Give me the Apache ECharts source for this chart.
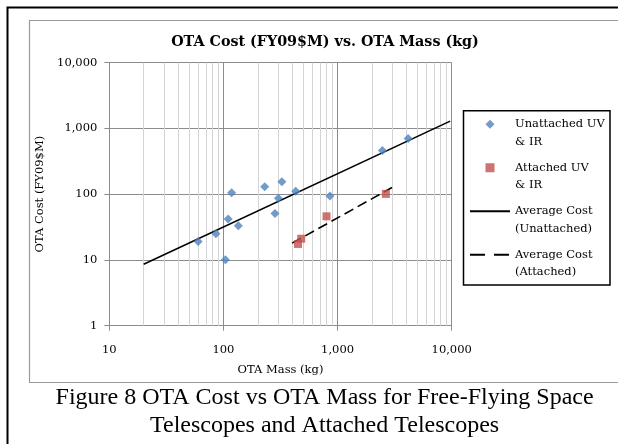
<!DOCTYPE html>
<html>
<head>
<meta charset="utf-8">
<script src="https://cdn.jsdelivr.net/npm/echarts@6/dist/echarts.min.js"></script>
<style>
    html, body { margin: 0; padding: 0; background: #fff; }
    #otaChart { width: 618px; height: 444px; }
</style>
</head>
<body>
<div id="otaChart"></div>
<script>
// 自由飞行望远镜 (Unattached)
var unattachedMass = [60, 86, 104, 110, 118, 135, 230, 283, 303, 325, 430, 857, 2470, 4150];
var unattachedCost = [19, 25, 10.1, 42, 105, 33, 130, 51, 87, 154, 111, 94, 462, 704];
// 附着望远镜 (Attached)
var attachedMass = [450, 480, 800, 2650];
var attachedCost = [17.5, 21, 46, 101];
// 平均成本线 (两端点)
var avgUnattachedMass = [20, 9700];
var avgUnattachedCost = [8.6, 1290];
var avgAttachedMass = [400, 3000];
var avgAttachedCost = [18, 126];
// x轴次网格线
var minorMassTicks = [20, 30, 40, 50, 60, 70, 80, 90,
    200, 300, 400, 500, 600, 700, 800, 900,
    2000, 3000, 4000, 5000, 6000, 7000, 8000, 9000];
// 图例名称
var seriesNames = ['Unattached UV & IR', 'Attached UV & IR', 'Average Cost (Unattached)', 'Average Cost (Attached)'];
var legendLines = ['Unattached UV\n& IR', 'Attached UV\n& IR', 'Average Cost\n(Unattached)', 'Average Cost\n(Attached)'];

var chartTitle = 'OTA Cost (FY09$M) vs. OTA Mass (kg)';
var captionText = 'Figure 8 OTA Cost vs OTA Mass for Free-Flying Space\nTelescopes and Attached Telescopes';

function zipPairs(xs, ys) {
    var out = [];
    for (var i = 0; i < xs.length; i++) {
        out.push([xs[i], ys[i]]);
    }
    return out;
}

// 千分位
function thousands(v) {
    return String(Math.round(v)).replace(/\B(?=(\d{3})+(?!\d))/g, ',');
}

var serif = 'DejaVu Serif';
var gridGray = '#8c8c8c';
var clear = 'rgba(0,0,0,0)';

var myChart = echarts.init(document.getElementById('otaChart'), null, {renderer: 'canvas'});

var option = {
    animation: false,
    textStyle: {fontFamily: serif, color: '#000'},
    grid: {left: 109.3, right: 166.3, top: 62.6, bottom: 118.3},
    xAxis: {
        type: 'log',
        logBase: 10,
        min: 10,
        max: 10000,
        name: 'OTA Mass (kg)',
        nameLocation: 'middle',
        nameGap: 38,
        nameTextStyle: {fontFamily: serif, fontSize: 11.5, color: '#000'},
        axisLine: {lineStyle: {color: gridGray, width: 1}},
        axisTick: {show: true, length: 5, lineStyle: {color: gridGray}},
        axisLabel: {margin: 18, fontFamily: serif, fontSize: 11.5, color: '#000', formatter: thousands},
        splitLine: {show: true, lineStyle: {color: gridGray, width: 1}}
    },
    yAxis: {
        type: 'log',
        logBase: 10,
        min: 1,
        max: 10000,
        name: 'OTA Cost (FY09$M)',
        nameLocation: 'middle',
        nameGap: 53,
        nameTextStyle: {fontFamily: serif, fontSize: 11.5, color: '#000'},
        axisLine: {show: true, lineStyle: {color: gridGray, width: 1}},
        axisTick: {show: true, length: 5, lineStyle: {color: gridGray}},
        axisLabel: {margin: 12, fontFamily: serif, fontSize: 11.5, color: '#000', formatter: thousands},
        splitLine: {show: true, lineStyle: {color: gridGray, width: 1}}
    },
    legend: {
        orient: 'vertical',
        left: 469,
        top: 98,
        padding: 0,
        itemWidth: 40,
        itemHeight: 9,
        itemGap: -9,
        symbolKeepAspect: true,
        selectedMode: false,
        textStyle: {fontFamily: serif, fontSize: 11.5, lineHeight: 17.5, color: '#000'},
        formatter: function (name) {
            // 首行空行让图标对齐第一行文字
            return '\n' + legendLines[seriesNames.indexOf(name)];
        },
        data: [
            {name: seriesNames[0], icon: 'path://M0,-1L1,0L0,1L-1,0Z'},
            {name: seriesNames[1], icon: 'path://M0,0L1,0L1,1L0,1Z'},
            {name: seriesNames[2], itemStyle: {color: clear, borderColor: clear, borderWidth: 0}},
            {name: seriesNames[3], itemStyle: {color: clear, borderColor: clear, borderWidth: 0},
                lineStyle: {type: [15, 9]}}
        ]
    },
    graphic: [
        {type: 'rect', shape: {x: 7.5, y: 7.5, width: 700, height: 500}, style: {fill: null, stroke: '#000', lineWidth: 2}, silent: true},
        {type: 'rect', shape: {x: 29.5, y: 20.5, width: 700, height: 362}, style: {fill: null, stroke: '#9a9a9a', lineWidth: 1.2}, silent: true},
        {type: 'rect', shape: {x: 463.5, y: 110.7, width: 146.5, height: 174.3}, style: {fill: null, stroke: '#000', lineWidth: 1.5}, silent: true},
        {type: 'text', x: 325, y: 42.3, style: {text: chartTitle, font: 'bold 14.3px "DejaVu Serif"', fill: '#000', align: 'center', verticalAlign: 'middle'}, silent: true},
        {type: 'text', x: 324.6, y: 412, style: {text: captionText, font: '24px "Liberation Serif"', lineHeight: 28, fill: '#000', align: 'center', verticalAlign: 'middle'}, silent: true}
    ],
    series: [{
        name: seriesNames[0],
        type: 'scatter',
        symbol: 'diamond',
        symbolSize: 9,
        itemStyle: {color: '#4F81BD'},
        data: zipPairs(unattachedMass, unattachedCost),
        z: 4,
        markLine: {
            silent: true,
            z: 1,
            symbol: ['none', 'none'],
            label: {show: false},
            lineStyle: {type: 'solid', color: '#d4d4d4', width: 1},
            emphasis: {disabled: true},
            data: minorMassTicks.map(function (v) { return {xAxis: v}; })
        }
    }, {
        name: seriesNames[1],
        type: 'scatter',
        symbol: 'rect',
        symbolSize: 8,
        itemStyle: {color: '#C0504D'},
        data: zipPairs(attachedMass, attachedCost),
        z: 4
    }, {
        name: seriesNames[2],
        type: 'line',
        symbol: 'none',
        lineStyle: {color: '#000', width: 1.6},
        itemStyle: {color: clear},
        data: zipPairs(avgUnattachedMass, avgUnattachedCost),
        z: 3
    }, {
        name: seriesNames[3],
        type: 'line',
        symbol: 'none',
        lineStyle: {color: '#000', width: 1.6, type: [10, 5]},
        itemStyle: {color: clear},
        data: zipPairs(avgAttachedMass, avgAttachedCost),
        z: 3
    }]
};

myChart.setOption(option);
</script>
</body>
</html>
